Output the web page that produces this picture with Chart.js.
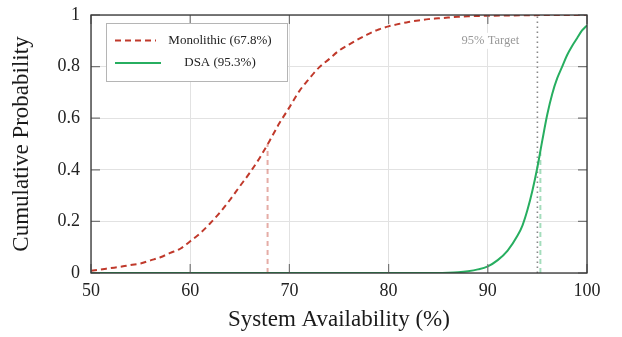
<!DOCTYPE html>
<html><head><meta charset="utf-8">
<script src="https://cdn.jsdelivr.net/npm/chart.js@4/dist/chart.umd.min.js"></script>
<style>html,body{margin:0;padding:0;background:#fff;}#wrap{width:622px;height:337px;}</style>
</head><body><div id="wrap"><canvas id="c" width="622" height="337"></canvas></div>
<script>
// ---- data ----
const monoX = [50,51,52,53,54,55,56,57,58,59,60,61,62,63,64,65,66,67,68,69,70,71,72,73,74,75,76,77,78,79,80,81,82,83,84,85,86,87,88,89,90,92,94,96,98,100];
const monoY = [0.009,0.014,0.019,0.024,0.031,0.037,0.049,0.061,0.078,0.094,0.123,0.154,0.192,0.235,0.283,0.336,0.388,0.446,0.512,0.581,0.642,0.705,0.753,0.797,0.829,0.862,0.885,0.907,0.927,0.944,0.956,0.965,0.973,0.979,0.984,0.987,0.990,0.993,0.995,0.996,0.997,0.998,0.999,1,1,1];
const dsaX = [50,60,70,80,84,85,86,87,88,89,90,91,92,93,93.5,94,94.5,95,95.5,96,96.5,97,97.5,98,98.5,99,99.5,100];
const dsaY = [0,0,0,0,0,0,0.001,0.003,0.007,0.014,0.026,0.05,0.087,0.145,0.185,0.245,0.32,0.41,0.515,0.615,0.695,0.755,0.80,0.845,0.88,0.91,0.94,0.96];
const seriesNames = ['Monolithic (67.8%)', 'DSA (95.3%)'];
const medians = [67.8, 95.3];
const medianLevels = [0.5, 0.466];
const targetX = 95;
const targetText = '95% Target';
const xTicks = [50,60,70,80,90,100];
const yTicks = [0,0.2,0.4,0.6,0.8,1];
const yTickLabels = ['0','0.2','0.4','0.6','0.8','1'];

const FONT = "'Liberation Serif', 'Times New Roman', serif";
const RED = '#c0392b', GREEN = '#27ae60';

const pts = (xs, ys) => xs.map((x, i) => ({x, y: ys[i]}));

const overlay = {
  id: 'overlay',
  afterDatasetsDraw(chart) {
    const {ctx, chartArea: a, scales: {x, y}} = chart;
    ctx.save();
    // inward ticks
    ctx.strokeStyle = '#777'; ctx.lineWidth = 1.2; ctx.setLineDash([]);
    xTicks.forEach(v => {
      const p = x.getPixelForValue(v);
      ctx.beginPath();
      ctx.moveTo(p, a.bottom); ctx.lineTo(p, a.bottom - 9);
      ctx.moveTo(p, a.top); ctx.lineTo(p, a.top + 9);
      ctx.stroke();
    });
    yTicks.forEach(v => {
      const p = y.getPixelForValue(v);
      ctx.beginPath();
      ctx.moveTo(a.left, p); ctx.lineTo(a.left + 9, p);
      ctx.moveTo(a.right, p); ctx.lineTo(a.right - 9, p);
      ctx.stroke();
    });
    // frame
    ctx.strokeStyle = '#333'; ctx.lineWidth = 1.3;
    ctx.strokeRect(a.left, a.top, a.right - a.left, a.bottom - a.top);

    // target label
    ctx.font = '12.5px ' + FONT;
    const tw = ctx.measureText(targetText).width;
    const tx = x.getPixelForValue(targetX) - 47, ty = y.getPixelForValue(0.9);
    ctx.fillStyle = '#fff';
    ctx.fillRect(tx - tw / 2 - 3, ty - 8, tw + 6, 16);
    ctx.fillStyle = '#999'; ctx.textAlign = 'center'; ctx.textBaseline = 'middle';
    ctx.fillText(targetText, tx, ty);

    // legend
    const lx = a.left + 15, ly = a.top + 8, lw = 181, lh = 58;
    ctx.fillStyle = '#fff'; ctx.fillRect(lx, ly, lw, lh);
    ctx.strokeStyle = '#b5b5b5'; ctx.lineWidth = 1;
    ctx.strokeRect(lx + 0.5, ly + 0.5, lw, lh);
    ctx.font = '13px ' + FONT;
    [0, 1].forEach(i => {
      const ds = chart.data.datasets[i];
      const ry = ly + (i === 0 ? 17.5 : 40);
      ctx.strokeStyle = ds.borderColor; ctx.lineWidth = 2;
      ctx.setLineDash(ds.borderDash || []);
      ctx.beginPath(); ctx.moveTo(lx + 9, ry); ctx.lineTo(lx + (i === 0 ? 50 : 55), ry); ctx.stroke();
      ctx.setLineDash([]);
      ctx.fillStyle = '#222'; ctx.textAlign = 'center'; ctx.textBaseline = 'middle';
      ctx.fillText(ds.label, lx + 114, ry);
    });
    ctx.restore();
  }
};

new Chart(document.getElementById('c'), {
  type: 'line',
  data: {
    datasets: [
      {label: seriesNames[0], data: pts(monoX, monoY), borderColor: RED, borderWidth: 2, borderDash: [6, 4], pointRadius: 0, cubicInterpolationMode: 'monotone', fill: false},
      {label: seriesNames[1], data: pts(dsaX, dsaY), borderColor: GREEN, borderWidth: 2, pointRadius: 0, cubicInterpolationMode: 'monotone', fill: false},
      {label: 'm1', data: [{x: medians[0], y: 0}, {x: medians[0], y: medianLevels[0]}], borderColor: 'rgba(192,57,43,0.42)', borderWidth: 2, borderDash: [5, 4], pointRadius: 0},
      {label: 'm2', data: [{x: medians[1], y: 0}, {x: medians[1], y: medianLevels[1]}], borderColor: 'rgba(39,174,96,0.42)', borderWidth: 2, borderDash: [5, 4], pointRadius: 0},
      {label: 't', data: [{x: targetX, y: 0}, {x: targetX, y: 1}], borderColor: '#888', borderWidth: 1.6, borderDash: [1.5, 3.5], pointRadius: 0}
    ]
  },
  options: {
    responsive: false,
    animation: false,
    devicePixelRatio: 1,
    layout: {padding: {left: 0, right: 35, top: 15, bottom: 0}},
    plugins: {legend: {display: false}, tooltip: {enabled: false}},
    scales: {
      x: {
        type: 'linear', min: 50, max: 100,
        afterBuildTicks: s => { s.ticks = xTicks.map(v => ({value: v})); },
        afterFit: s => { s.height = 64; s.paddingLeft = 0; s.paddingRight = 0; },
        ticks: {font: {family: FONT, size: 18}, color: '#222', padding: 7, maxRotation: 0, autoSkip: false, callback: v => String(v)},
        grid: {color: '#e2e2e2', lineWidth: 1, drawTicks: false},
        border: {display: false},
        title: {display: true, text: 'System Availability (%)', font: {family: FONT, size: 23}, color: '#1a1a1a', padding: {top: 0, bottom: 3}}
      },
      y: {
        type: 'linear', min: 0, max: 1,
        afterBuildTicks: s => { s.ticks = yTicks.map(v => ({value: v})); },
        afterFit: s => { s.width = 91; s.paddingTop = 0; s.paddingBottom = 0; },
        ticks: {font: {family: FONT, size: 18}, color: '#222', padding: 11, autoSkip: false, callback: (v) => yTickLabels[yTicks.indexOf(v)] ?? String(v)},
        grid: {color: '#e2e2e2', lineWidth: 1, drawTicks: false},
        border: {display: false},
        title: {display: true, text: 'Cumulative Probability', font: {family: FONT, size: 23}, color: '#1a1a1a', padding: {top: 8, bottom: 0}}
      }
    }
  },
  plugins: [overlay]
});
</script>
</body></html>
